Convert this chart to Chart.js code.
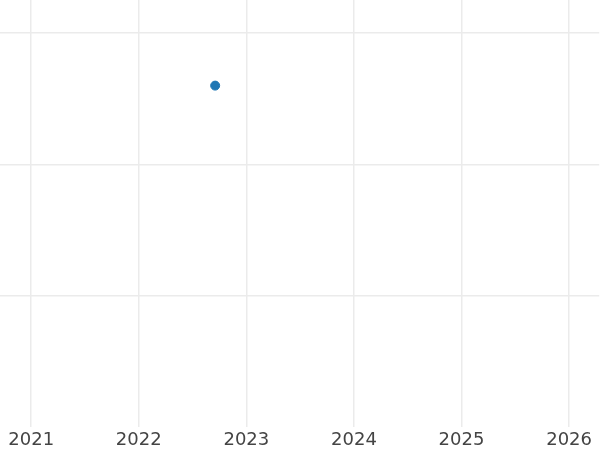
<!DOCTYPE html>
<html>
<head>
<meta charset="utf-8">
<script src="https://cdn.jsdelivr.net/npm/chart.js@4"></script>
<style>
  html, body { margin: 0; padding: 0; background: #fff; }
  #wrap { width: 600px; height: 450px; }
</style>
</head>
<body>
<div id="wrap"><canvas id="chart"></canvas></div>
<script>
// values
const xYears = [2022.71];
const yValues = [2.6];
const xTickYears = [2021, 2022, 2023, 2024, 2025, 2026];
const yTickValues = [1, 2, 3];

const points = xYears.map((x, i) => ({ x: x, y: yValues[i] }));

new Chart(document.getElementById('chart'), {
    type: 'scatter',
    data: {
        datasets: [{
            data: points,
            backgroundColor: '#1f77b4',
            borderColor: '#1f77b4',
            pointRadius: 4.5,
            pointHoverRadius: 4.5
        }]
    },
    options: {
        responsive: true,
        maintainAspectRatio: false,
        animation: false,
        layout: { padding: 0, autoPadding: false },
        plugins: { legend: { display: false }, tooltip: { enabled: false } },
        scales: {
            x: {
                type: 'linear',
                min: 2020.71,
                max: 2026.28,
                afterBuildTicks: axis => { axis.ticks = xTickYears.map(v => ({ value: v })); },
                afterFit: axis => { axis.height = 23; },
                border: { display: false },
                grid: { color: '#ebebeb', lineWidth: 1.5, drawTicks: false },
                ticks: {
                    padding: 8,
                    color: '#444',
                    font: { family: 'DejaVu Sans', size: 18, lineHeight: 0.62 },
                    callback: v => String(v)
                }
            },
            y: {
                type: 'linear',
                min: 0,
                max: 3.252,
                afterBuildTicks: axis => { axis.ticks = yTickValues.map(v => ({ value: v })); },
                border: { display: false },
                grid: { color: '#ebebeb', lineWidth: 1.5, drawTicks: false },
                ticks: { display: false }
            }
        }
    }
});
</script>
</body>
</html>
